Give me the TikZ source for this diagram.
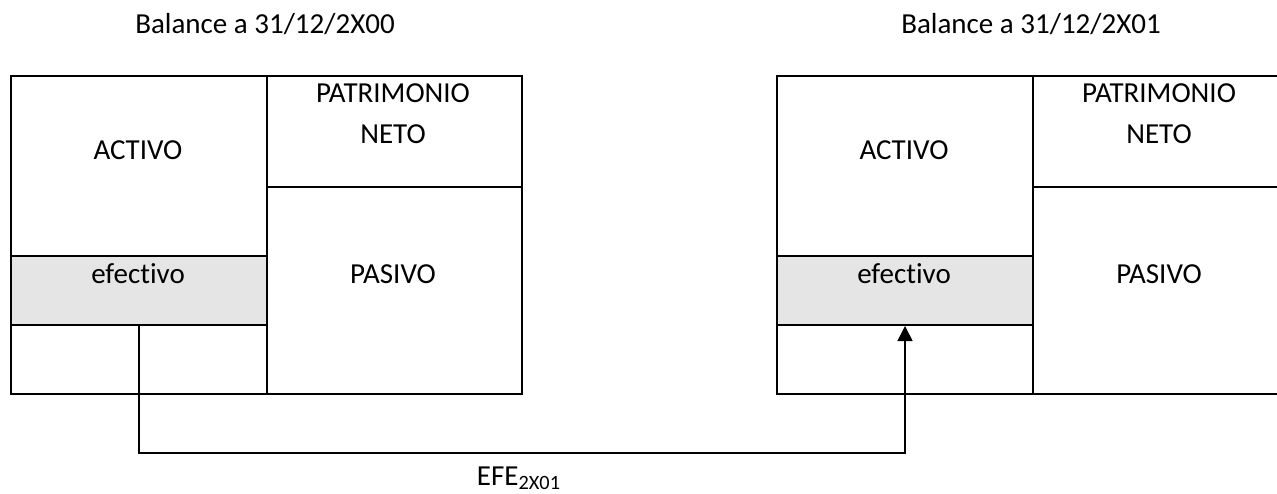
\documentclass[tikz,border=0pt]{standalone}
\usepackage{fontspec}
\setmainfont[Ligatures=NoCommon]{Carlito}
\usetikzlibrary{positioning, arrows.meta}

\begin{document}
\begin{tikzpicture}[x=0.5pt, y=-0.5pt, font=\fontsize{14.5}{20.5}\selectfont,
    cell/.style={draw, line width=1pt, inner sep=0pt, anchor=north west},
    txt/.style={inner sep=0pt, anchor=base, align=center},
    flow/.style={line width=0.8pt, -{Triangle[length=7.5pt, width=7.5pt]}}]
    \useasboundingbox (0,0) rectangle (1277,493);

    % Both balance sheets, same layout
    \foreach \b/\x/\yr in {a/10/00, b/776/01} {
        \node[cell, minimum width=128pt, minimum height=90pt] (\b-act) at (\x,75) {};
        \node[cell, fill=gray!20, minimum width=128pt, minimum height=34.5pt] (\b-eff) at (\x,255) {};
        \node[cell, minimum width=128pt, minimum height=34.5pt] (\b-low) at (\x,324) {};
        \node[cell, minimum width=127.5pt, minimum height=55.5pt] (\b-pn) at ({\x+256},75) {};
        \node[cell, minimum width=127.5pt, minimum height=103.5pt] (\b-pas) at ({\x+256},186) {};

        \node[txt] (\b-title) at ({\x+255},33) {Balance a 31/12/2X\yr};
        \node[txt] (\b-acttxt) at ({\x+128},159) {ACTIVO};
        \node[txt] (\b-efftxt) at ({\x+128},283) {efectivo};
        \node[inner sep=0pt, align=center] (\b-pntxt) at ({\x+383},114) {PATRIMONIO\\NETO};
        \node[txt] (\b-pastxt) at ({\x+383},283) {PASIVO};
    }

    % Cash flow statement linking both years
    \draw[flow] (a-eff.south) -- ++(0,127) -| (b-eff.south);
    \node[txt] (efe) at (519,485) {EFE\textsubscript{2X01}};
\end{tikzpicture}
\end{document}
